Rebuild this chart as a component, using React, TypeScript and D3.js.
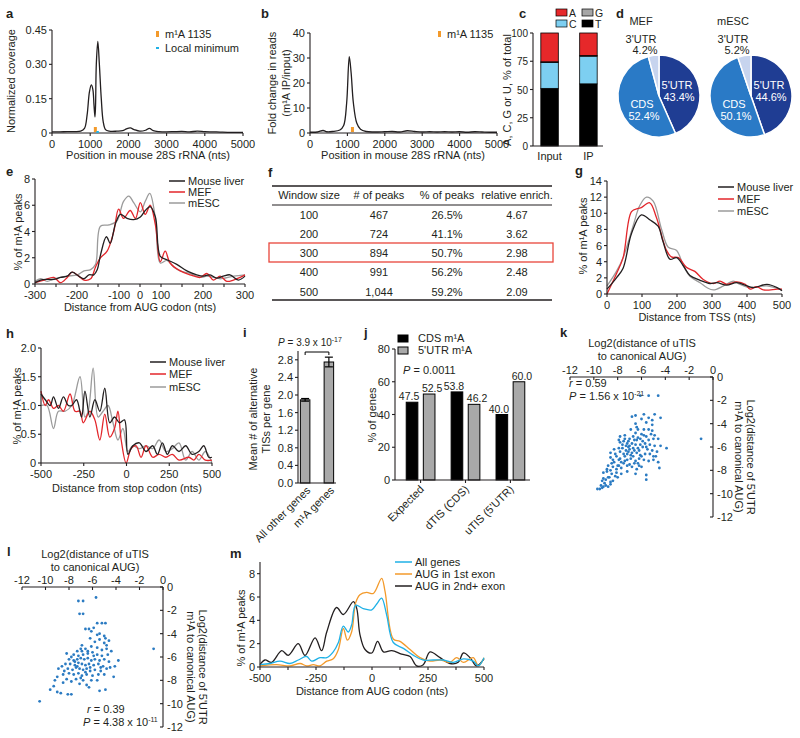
import React from "react";
import * as d3 from "d3";

const FONT = "'Liberation Sans', Arial, Helvetica, sans-serif";
const INK = "#231f20";
const RED = "#e3262b";
const GREY = "#9b9b9b";
const ORANGE = "#f39a2b";
const CYAN = "#1fb1e6";
const DOT = "#2b7bc2";

type Pt = [number, number];

// ---------- a ----------
const aXTicks = [0, 1000, 2000, 3000, 4000, 5000];
const aYTicks = [0, 0.15, 0.3, 0.45];
const aYTickLabels = ["0", "0.15", "0.30", "0.45"];
const aM1APos = 1135;
const aCoverage: Pt[] = [
  [0, 0.005], [200, 0.005], [400, 0.006], [600, 0.006], [750, 0.008], [850, 0.02], [920, 0.08],
  [980, 0.18], [1030, 0.21], [1070, 0.19], [1100, 0.12], [1125, 0.07], [1140, 0.12], [1160, 0.3],
  [1200, 0.4], [1240, 0.3], [1290, 0.15], [1340, 0.05], [1400, 0.015], [1500, 0.008], [1700, 0.008],
  [1850, 0.01], [1950, 0.018], [2050, 0.022], [2150, 0.015], [2300, 0.008], [2450, 0.012], [2550, 0.02],
  [2650, 0.01], [2800, 0.006], [3000, 0.005], [3200, 0.006], [3400, 0.007], [3600, 0.005], [3800, 0.008],
  [4000, 0.006], [4200, 0.005], [4400, 0.004], [4600, 0.003], [4800, 0.003], [5000, 0.003],
];

// ---------- b ----------
const bYTicks = [0, 10, 20, 30, 40];
const bFoldChange: Pt[] = [
  [0, 0.3], [200, 0.4], [350, 1.0], [450, 0.5], [600, 0.6], [800, 1.2], [900, 3], [980, 12],
  [1050, 30.5], [1100, 24], [1160, 12], [1250, 4], [1350, 1.5], [1500, 0.6], [1700, 0.4], [2000, 0.5],
  [2200, 0.6], [2400, 0.4], [2600, 0.9], [2800, 0.6], [3000, 0.4], [3200, 0.5], [3400, 0.4], [3600, 0.5],
  [3800, 0.4], [4000, 0.5], [4200, 0.3], [4400, 0.5], [4600, 0.4], [4800, 0.3], [5000, 0.3],
];

// ---------- c ----------
const cSamples = ["Input", "IP"];
const cT = [51, 55];
const cC = [23, 24.5];
const cG = [0.5, 0.5];
const cA = [25.5, 20];
const cYTicks = [0, 25, 50, 75, 100];

// ---------- d ----------
const dRegions = ["5'UTR", "CDS", "3'UTR"];
const dMEF = [43.4, 52.4, 4.2];
const dESC = [44.6, 50.1, 5.2];

// ---------- e ----------
const eXTicks = [-300, -240, -180, -120, -60, 0, 60, 120, 180, 240, 300];
const eXTickLabels = ["-300", "", "-200", "", "-100", "0", "100", "", "200", "", "300"];
const eYTicks = [0, 2, 4, 6, 8];
const eLiver: Pt[] = [
  [-300, 0.1], [-284, 0.3], [-265, 0.35], [-246, 0.35], [-227, 0.5], [-208, 0.6], [-194, 0.9], [-175, 0.6],
  [-160, 0.4], [-146, 0.7], [-132, 0.7], [-122, 1.1], [-113, 2.2], [-96, 3.6], [-85, 3.1], [-70, 4.6],
  [-56, 5.3], [-37, 5.0], [-18, 4.9], [1, 5.1], [15, 5.6], [29, 5.9], [44, 5.1], [58, 2.1], [77, 1.85],
  [105, 1.5], [134, 1.0], [162, 0.7], [181, 0.6], [200, 0.7], [219, 0.45], [238, 0.6], [257, 0.7], [281, 0.3], [300, 0.6],
];
const eMEF: Pt[] = [
  [-300, 0.1], [-274, 0.3], [-246, 0.5], [-227, 0.1], [-208, 0.5], [-194, 0.9], [-175, 0.6], [-160, 0.3],
  [-141, 0.4], [-127, 1.3], [-113, 2.0], [-94, 2.5], [-75, 4.0], [-61, 5.7], [-47, 5.0], [-28, 5.6],
  [-13, 5.0], [1, 6.2], [15, 5.3], [29, 6.0], [44, 4.5], [58, 1.7], [72, 2.5], [86, 1.6], [115, 1.0],
  [143, 0.7], [172, 0.5], [191, 0.8], [210, 0.3], [229, 0.6], [248, 0.2], [267, 0.3], [286, 0.5], [300, 0.7],
];
const eESC: Pt[] = [
  [-300, 0.2], [-284, 0.4], [-265, 0.2], [-246, 0.4], [-227, 0.5], [-208, 0.6], [-179, 0.7], [-160, 1.0],
  [-141, 1.1], [-127, 1.5], [-113, 4.4], [-89, 4.5], [-66, 4.8], [-47, 6.3], [-32, 6.7], [-18, 6.2],
  [1, 5.5], [15, 6.3], [28, 6.9], [44, 5.0], [58, 1.6], [77, 1.8], [96, 1.3], [115, 1.0], [143, 0.8],
  [172, 0.5], [191, 0.6], [210, 0.5], [229, 0.4], [267, 0.6], [300, 0.7],
];

// ---------- f ----------
const fHeaders = ["Window size", "# of peaks", "% of peaks", "relative enrich."];
const fWindow = ["100", "200", "300", "400", "500"];
const fPeaks = ["467", "724", "894", "991", "1,044"];
const fPct = ["26.5%", "41.1%", "50.7%", "56.2%", "59.2%"];
const fEnrich = ["4.67", "3.62", "2.98", "2.48", "2.09"];
const fHighlightRow = 2;

// ---------- g ----------
const gXTicks = [0, 100, 200, 300, 400, 500];
const gYTicks = [0, 2, 4, 6, 8, 10, 12, 14];
const gLiver: Pt[] = [
  [0, 0.6], [27, 2.0], [46, 3.2], [70, 7.5], [98, 9.8], [122, 9.2], [146, 8.4], [160, 6.5], [180, 4.3],
  [199, 4.5], [218, 3.5], [237, 2.3], [266, 1.7], [294, 1.3], [314, 1.4], [342, 1.1], [371, 1.4],
  [400, 1.0], [419, 0.8], [457, 1.2], [486, 0.8], [500, 0.4],
];
const gMEF: Pt[] = [
  [0, 0.0], [27, 2.5], [46, 4.5], [70, 10.2], [89, 10.6], [98, 10.7], [122, 11.3], [141, 9.5], [170, 5.4],
  [184, 4.6], [204, 4.5], [227, 3.3], [251, 2.8], [275, 1.8], [304, 1.3], [323, 1.6], [342, 1.2],
  [371, 1.5], [395, 1.2], [409, 0.6], [428, 0.9], [447, 0.5], [486, 0.6], [500, 0.6],
];
const gESC: Pt[] = [
  [0, 1.0], [27, 2.8], [46, 4.5], [75, 8.5], [94, 11.0], [113, 12.0], [132, 11.5], [156, 8.0], [175, 5.8],
  [199, 5.4], [218, 3.5], [237, 2.2], [266, 1.4], [285, 0.8], [304, 0.5], [333, 1.0], [361, 1.6],
  [380, 1.2], [404, 0.8], [428, 0.9], [457, 1.0], [500, 0.5],
];

// ---------- h ----------
const hXTicks = [-500, -250, 0, 250, 500];
const hYTicks = [0, 0.5, 1.0, 1.5, 2.0];
const hYTickLabels = ["0", "0.5", "1.0", "1.5", "2.0"];
const hLiver: Pt[] = [
  [-500, 1.2], [-475, 1.1], [-446, 1.0], [-427, 1.15], [-398, 0.95], [-369, 1.15], [-340, 1.0], [-320, 1.0],
  [-292, 1.1], [-263, 0.8], [-243, 1.25], [-214, 0.8], [-185, 1.1], [-156, 0.9], [-127, 1.3], [-98, 0.7],
  [-70, 0.8], [-41, 0.7], [-12, 0.75], [8, 0.15], [37, 0.3], [75, 0.35], [114, 0.2], [153, 0.3],
  [181, 0.15], [210, 0.35], [239, 0.15], [268, 0.3], [307, 0.2], [346, 0.3], [384, 0.15], [423, 0.2],
  [452, 0.3], [481, 0.1], [500, 0.1],
];
const hMEF: Pt[] = [
  [-500, 1.25], [-475, 1.0], [-456, 1.1], [-427, 0.95], [-398, 1.0], [-369, 0.9], [-330, 1.2], [-301, 0.9],
  [-272, 0.9], [-253, 0.7], [-214, 0.9], [-185, 0.75], [-156, 0.4], [-127, 0.85], [-98, 0.45], [-70, 0.6],
  [-50, 0.9], [-31, 0.4], [-2, 0.0], [27, 0.25], [56, 0.3], [85, 0.1], [114, 0.3], [153, 0.1], [191, 0.15],
  [230, 0.1], [268, 0.15], [307, 0.05], [365, 0.1], [394, 0.05], [423, 0.15], [461, 0.05], [500, 0.05],
];
const hESC: Pt[] = [
  [-500, 1.0], [-465, 1.0], [-427, 0.6], [-398, 0.9], [-359, 0.9], [-320, 1.0], [-272, 1.5], [-243, 0.8],
  [-224, 0.9], [-195, 1.65], [-166, 0.8], [-137, 0.9], [-108, 1.0], [-79, 0.7], [-50, 0.4], [-21, 0.6],
  [8, 0.2], [37, 0.3], [75, 0.25], [114, 0.3], [153, 0.25], [191, 0.4], [230, 0.2], [268, 0.25],
  [307, 0.35], [346, 0.05], [384, 0.2], [423, 0.05], [461, 0.2], [500, 0.0],
];

// ---------- i ----------
const iGroups = ["All other genes", "m\u00b9A genes"];
const iMeans = [1.89, 2.75];
const iErrors = [0.03, 0.11];
const iYTicks = [0, 0.4, 0.8, 1.2, 1.6, 2.0, 2.4, 2.8];

// ---------- j ----------
const jGroups = ["Expected", "dTIS (CDS)", "uTIS (5'UTR)"];
const jCDS = [47.5, 53.8, 40.0];
const jUTR = [52.5, 46.2, 60.0];
const jYTicks = [0, 20, 40, 60, 80];

// ---------- k / l ----------
const klTicks = [-12, -10, -8, -6, -4, -2, 0];
const kPoints: Pt[] = [
  [-6.1, -1.6], [-5.4, -1.6], [-4.6, -1.6], [-6.8, -3.4], [-6.5, -3.3], [-5.8, -3.2], [-5.4, -3.5], [-4.9, -3.2],
  [-4.4, -3.5], [-6.0, -3.6], [-5.1, -3.7], [-6.5, -4.0], [-5.6, -3.9], [-5.1, -4.1], [-6.4, -4.3], [-6.9, -4.5],
  [-6.3, -4.5], [-5.8, -4.5], [-5.4, -4.5], [-5.1, -4.6], [-6.5, -4.8], [-6.0, -4.9], [-5.2, -4.9], [-4.9, -5.0],
  [-5.6, -5.1], [-7.8, -5.1], [-7.4, -5.0], [-6.7, -5.1], [-6.3, -5.2], [-7.0, -5.3], [-6.4, -5.4], [-5.4, -5.4],
  [-5.0, -5.3], [-4.6, -5.3], [-5.9, -5.5], [-7.5, -5.5], [-7.9, -5.4], [-7.8, -5.6], [-7.2, -5.7], [-6.8, -5.7],
  [-6.5, -5.8], [-6.1, -5.8], [-5.7, -5.7], [-5.3, -5.8], [-4.9, -5.9], [-4.4, -5.9], [-7.3, -5.9], [-7.1, -6.0],
  [-6.3, -6.1], [-5.9, -6.0], [-3.9, -6.1], [-8.6, -6.5], [-8.2, -6.6], [-7.8, -6.4], [-7.5, -6.6], [-7.1, -6.4],
  [-6.8, -6.5], [-6.4, -6.5], [-6.1, -6.7], [-5.7, -6.6], [-5.3, -6.6], [-5.0, -6.8], [-8.1, -6.8], [-7.4, -6.8],
  [-6.7, -6.8], [-6.0, -6.8], [-8.6, -6.9], [-8.4, -7.1], [-7.9, -7.1], [-7.7, -7.3], [-7.2, -7.1], [-6.9, -7.0],
  [-6.5, -7.2], [-6.3, -7.4], [-5.8, -7.1], [-5.4, -7.2], [-5.0, -7.1], [-4.6, -7.3], [-8.5, -7.4], [-7.5, -7.4],
  [-8.8, -7.6], [-8.4, -7.7], [-8.0, -7.6], [-7.7, -7.8], [-7.2, -7.6], [-6.8, -7.7], [-6.4, -7.9], [-6.0, -7.7],
  [-4.5, -7.8], [-8.1, -7.9], [-8.9, -7.9], [-9.2, -8.2], [-8.9, -8.1], [-8.5, -8.3], [-8.1, -8.2], [-7.7, -8.3],
  [-7.2, -8.1], [-6.5, -8.3], [-5.6, -8.4], [-8.7, -8.6], [-9.2, -8.7], [-9.0, -8.8], [-8.8, -8.6], [-8.6, -9.0],
  [-9.1, -9.1], [-9.3, -8.9], [-5.6, -8.8], [-9.7, -9.6], [-9.5, -9.6], [-9.3, -9.5], [-9.2, -9.4], [-9.0, -9.3],
  [-8.8, -9.4], [-8.6, -9.2], [-1.0, -5.3], [-7.0, -6.2], [-6.6, -6.3], [-7.3, -6.3], [-6.2, -6.3], [-7.6, -6.1],
  [-7.0, -5.9], [-6.7, -6.1], [-7.2, -6.6], [-6.9, -6.7], [-7.8, -7.0], [-7.4, -7.2], [-8.3, -7.3], [-6.6, -7.4],
  [-6.2, -7.0], [-5.5, -6.2], [-5.1, -6.3], [-4.7, -6.4], [-4.8, -6.8], [-5.6, -6.0], [-7.6, -5.8], [-7.9, -6.1],
  [-8.3, -6.2], [-7.4, -5.3], [-7.1, -5.5], [-6.6, -5.4], [-6.1, -5.3], [-5.8, -5.0], [-8.0, -8.6], [-8.4, -8.9],
  [-7.9, -7.6], [-7.0, -7.5], [-6.2, -7.6], [-8.6, -8.0], [-9.4, -9.3], [-8.2, -8.5],
];
const lPoints: Pt[] = [
  [-7.2, -1.2], [-6.8, -1.2], [-5.7, -0.9], [-7.1, -2.3], [-6.8, -2.3], [-5.6, -3.1], [-5.2, -3.1], [-4.9, -3.1],
  [-6.6, -3.6], [-6.3, -3.6], [-5.9, -3.5], [-6.1, -3.8], [-5.4, -4.0], [-5.0, -4.2], [-4.9, -4.4], [-5.4, -4.5],
  [-5.0, -4.8], [-4.8, -5.0], [-5.6, -4.1], [-6.2, -4.4], [-6.9, -5.0], [-6.6, -5.3], [-6.1, -5.1], [-5.6, -5.2],
  [-5.2, -5.4], [-4.8, -5.3], [-0.8, -5.3], [-8.2, -5.7], [-7.8, -6.0], [-7.3, -5.5], [-6.9, -5.5], [-3.8, -6.3],
  [-4.1, -6.8], [-8.6, -6.8], [-8.9, -7.0], [-9.0, -7.7], [-8.5, -7.5], [-9.0, -9.0], [-8.7, -9.1], [-9.6, -8.8],
  [-9.3, -8.5], [-8.1, -9.2], [-7.8, -9.2], [-10.5, -9.8], [-5.4, -8.9], [-4.9, -8.8], [-4.2, -7.7], [-6.5, -8.4],
  [-6.1, -8.0], [-5.6, -8.0], [-7.1, -8.3], [-7.4, -7.9], [-7.6, -5.8], [-7.2, -5.9], [-6.8, -5.8], [-6.4, -5.7],
  [-6.0, -5.6], [-5.6, -5.8], [-5.2, -5.9], [-4.7, -5.8], [-8.0, -6.2], [-7.6, -6.3], [-7.3, -6.2], [-7.0, -6.1],
  [-6.7, -6.2], [-6.4, -6.1], [-6.1, -6.3], [-5.8, -6.2], [-5.4, -6.3], [-5.0, -6.2], [-4.6, -6.4], [-8.3, -6.6],
  [-7.9, -6.6], [-7.5, -6.7], [-7.2, -6.5], [-6.9, -6.6], [-6.6, -6.7], [-6.3, -6.6], [-5.9, -6.7], [-5.5, -6.6],
  [-5.1, -6.8], [-8.1, -7.0], [-7.7, -7.1], [-7.4, -6.9], [-7.1, -7.0], [-6.8, -7.1], [-6.5, -7.0], [-6.2, -7.2],
  [-5.8, -7.1], [-5.3, -7.2], [-4.8, -7.0], [-8.0, -7.4], [-7.6, -7.5], [-7.2, -7.4], [-6.9, -7.6], [-6.5, -7.5],
  [-6.0, -7.6], [-5.5, -7.5], [-8.2, -7.9], [-7.8, -8.1], [-6.8, -8.0], [-6.3, -8.6], [-7.0, -5.3], [-6.4, -5.5],
  [-5.9, -5.9], [-5.3, -6.9], [-4.5, -6.9], [-7.3, -6.8], [-6.6, -7.3], [-7.5, -6.4], [-6.2, -6.9], [-8.4, -7.2],
  [-5.0, -7.5], [-4.4, -5.5], [-4.6, -4.6], [-5.8, -4.7], [-7.0, -7.8], [-8.5, -8.2], [-9.2, -8.0],
];

// ---------- m ----------
const mXTicks = [-500, -375, -250, -125, 0, 125, 250, 375, 500];
const mXTickLabels = ["-500", "", "-250", "", "0", "", "250", "", "500"];
const mYTicks = [0, 2, 4, 6, 8];
const mAll: Pt[] = [
  [-500, 0.2], [-455, 0.3], [-411, 0.5], [-366, 0.3], [-329, 0.6], [-292, 0.9], [-269, 0.5], [-232, 0.8],
  [-202, 0.8], [-173, 1.3], [-150, 2.1], [-128, 3.5], [-106, 3.0], [-91, 3.6], [-73, 5.3], [-39, 5.0],
  [-1, 4.9], [21, 5.4], [43, 5.9], [65, 4.5], [95, 2.1], [140, 1.6], [185, 1.0], [229, 0.6], [274, 0.6],
  [318, 0.6], [363, 0.4], [408, 0.7], [452, 0.5], [475, 0.1], [500, 0.8],
];
const mFirst: Pt[] = [
  [-500, 0.1], [-426, 0.2], [-366, 0.1], [-321, 0.3], [-292, 0.1], [-262, 0.2], [-232, 0.1], [-202, 0.5],
  [-173, 0.7], [-150, 1.5], [-128, 3.3], [-110, 2.3], [-91, 3.0], [-73, 5.5], [-54, 6.2], [-24, 6.4],
  [6, 6.3], [43, 7.6], [58, 6.5], [95, 2.4], [125, 2.2], [170, 1.5], [214, 0.8], [259, 0.5], [304, 0.6],
  [348, 0.4], [378, 0.8], [408, 0.4], [452, 0.8], [475, 0.1], [500, 0.8],
];
const mSecond: Pt[] = [
  [-500, 0.2], [-478, 0.6], [-448, 0.4], [-403, 1.4], [-374, 1.0], [-329, 2.0], [-299, 1.0], [-254, 2.5],
  [-225, 1.4], [-202, 3.0], [-158, 5.1], [-128, 4.5], [-83, 5.6], [-68, 5.0], [-54, 2.8], [-31, 1.5],
  [-1, 1.2], [25, 2.2], [51, 1.3], [88, 1.4], [132, 1.1], [170, 0.9], [199, 0.1], [229, 0.2], [259, 1.3],
  [304, 0.8], [348, 0.3], [385, 0.4], [408, 1.2], [438, 0.8], [467, 0.1], [500, 0.7],
];

// ================= helpers =================
function Txt({ x, y, children, anchor = "start", size = 11, weight, fill = INK, transform, italic }: any) {
  return (
    <text x={x} y={y} textAnchor={anchor} fontSize={size} fontWeight={weight} fill={fill}
      transform={transform} fontFamily={FONT} fontStyle={italic ? "italic" : undefined}>
      {children}
    </text>
  );
}
function Letter({ x, y, t }: any) {
  return <Txt x={x} y={y} size={13} weight="bold">{t}</Txt>;
}
function VText({ x, y, children, rot = -90, size = 11 }: any) {
  return <Txt x={x} y={y} anchor="middle" size={size} transform={`rotate(${rot} ${x} ${y})`}>{children}</Txt>;
}
function YAxisLeft({ scale, x, ticks, labels, len = 3, size = 11 }: any) {
  const [d0, d1] = scale.domain();
  return (
    <g>
      <line x1={x} x2={x} y1={scale(d0)} y2={scale(d1)} stroke={INK} strokeWidth={1.1} />
      {ticks.map((t: number, i: number) => (
        <g key={i}>
          <line x1={x - len} x2={x} y1={scale(t)} y2={scale(t)} stroke={INK} strokeWidth={1.1} />
          <Txt x={x - len - 2} y={scale(t) + 4} anchor="end" size={size}>{labels ? labels[i] : String(t)}</Txt>
        </g>
      ))}
    </g>
  );
}
function XAxisBottom({ scale, y, ticks, labels, len = 3, dy = 14.5 }: any) {
  const [r0, r1] = scale.range();
  return (
    <g>
      <line x1={r0} x2={r1} y1={y} y2={y} stroke={INK} strokeWidth={1.1} />
      {ticks.map((t: number, i: number) => (
        <g key={i}>
          <line x1={scale(t)} x2={scale(t)} y1={y} y2={y + len} stroke={INK} strokeWidth={1.1} />
          <Txt x={scale(t)} y={y + dy} anchor="middle">{labels ? labels[i] : String(t)}</Txt>
        </g>
      ))}
    </g>
  );
}
function Curve({ data, x, y, color, w = 1.3 }: any) {
  const line = d3.line<Pt>().x((d) => x(d[0])).y((d) => y(d[1])).curve(d3.curveCatmullRom.alpha(0.5));
  return <path d={line(data) || ""} fill="none" stroke={color} strokeWidth={w} strokeLinejoin="round" />;
}
function LineLegend({ x, ys, items, colors, len = 16, size = 11 }: any) {
  return (
    <g>
      {items.map((it: string, i: number) => (
        <g key={i}>
          <line x1={x} x2={x + len} y1={ys[i]} y2={ys[i]} stroke={colors[i]} strokeWidth={1.5} />
          <Txt x={x + len + 3} y={ys[i] + 4} size={size}>{it}</Txt>
        </g>
      ))}
    </g>
  );
}
const sampleNames = ["Mouse liver", "MEF", "mESC"];
const sampleColors = [INK, RED, GREY];

// ================= panels =================
function PanelA() {
  const x = d3.scaleLinear().domain([0, 5000]).range([52, 243]);
  const y = d3.scaleLinear().domain([0, 0.45]).range([133, 30]);
  return (
    <g>
      <Letter x={6} y={18} t="a" />
      <Curve data={aCoverage} x={x} y={y} color={INK} />
      <YAxisLeft scale={y} x={52} ticks={aYTicks} labels={aYTickLabels} />
      <XAxisBottom scale={x} y={133} ticks={aXTicks} />
      <rect x={x(aM1APos) - 1.5} y={127} width={3} height={5} fill={ORANGE} />
      <rect x={x(aM1APos) + 1} y={131} width={2.5} height={2} fill={CYAN} />
      <rect x={156} y={31} width={3} height={6} fill={ORANGE} />
      <Txt x={165} y={38}>m¹A 1135</Txt>
      <rect x={156} y={47} width={3} height={2} fill={CYAN} />
      <Txt x={165} y={52}>Local minimum</Txt>
      <VText x={15} y={81}>Normalized coverage</VText>
      <Txt x={148} y={159} anchor="middle">Position in mouse 28S rRNA (nts)</Txt>
    </g>
  );
}

function PanelB() {
  const x = d3.scaleLinear().domain([0, 5000]).range([310, 497]);
  const y = d3.scaleLinear().domain([0, 40]).range([133, 33]);
  return (
    <g>
      <Letter x={261} y={18} t="b" />
      <Curve data={bFoldChange} x={x} y={y} color={INK} />
      <YAxisLeft scale={y} x={310} ticks={bYTicks} />
      <XAxisBottom scale={x} y={133} ticks={aXTicks} />
      <rect x={x(aM1APos) - 1.5} y={127} width={3} height={5} fill={ORANGE} />
      <rect x={438} y={31} width={3} height={6} fill={ORANGE} />
      <Txt x={447} y={38}>m¹A 1135</Txt>
      <VText x={276} y={83}>Fold change in reads</VText>
      <VText x={290} y={83}>(m¹A IP/input)</VText>
      <Txt x={403} y={159} anchor="middle">Position in mouse 28S rRNA (nts)</Txt>
    </g>
  );
}

function PanelC() {
  const x = d3.scaleBand().domain(cSamples).range([535, 603]).paddingInner(0.55).paddingOuter(0.15);
  const y = d3.scaleLinear().domain([0, 100]).range([146, 33]);
  const layers = [
    { vals: cT, color: "#000" },
    { vals: cC, color: "#7dcff1" },
    { vals: cG, color: "#a6a6a6" },
    { vals: cA, color: "#e6282a" },
  ];
  const legend = [
    { k: "A", c: "#e6282a", lx: 556, ly: 9 },
    { k: "G", c: "#a6a6a6", lx: 582, ly: 9 },
    { k: "C", c: "#7dcff1", lx: 556, ly: 20 },
    { k: "T", c: "#000", lx: 582, ly: 20 },
  ];
  return (
    <g>
      <Letter x={519} y={18} t="c" />
      {cSamples.map((s, i) => {
        let acc = 0;
        return (
          <g key={s}>
            {layers.map((L, j) => {
              const y0 = acc;
              acc += L.vals[i];
              return (
                <rect key={j} x={x(s)} width={x.bandwidth()} y={y(acc)} height={y(y0) - y(acc)}
                  fill={L.color} stroke="#000" strokeWidth={0.8} />
              );
            })}
            <Txt x={(x(s) as number) + x.bandwidth() / 2} y={160} anchor="middle">{s}</Txt>
          </g>
        );
      })}
      <YAxisLeft scale={y} x={533} ticks={cYTicks} size={10} />
      <line x1={533} x2={603} y1={146} y2={146} stroke={INK} strokeWidth={1.1} />
      {legend.map((l) => (
        <g key={l.k}>
          <rect x={l.lx} y={l.ly} width={11} height={7} fill={l.c} stroke="#000" strokeWidth={0.7} />
          <Txt x={l.lx + 13} y={l.ly + 7.5} size={10.5}>{l.k}</Txt>
        </g>
      ))}
      <VText x={511} y={90}>A, C, G or U, % of total</VText>
    </g>
  );
}

function Pie({ cx, cy, r, values, title, pct }: any) {
  const pie = d3.pie<number>().sort(null).startAngle(0).endAngle(2 * Math.PI);
  const arc = d3.arc<d3.PieArcDatum<number>>().innerRadius(0).outerRadius(r);
  const colors = ["#1f3d93", "#2a7ac6", "#c7d4ee"];
  const arcs = pie(values);
  return (
    <g>
      <g transform={`translate(${cx},${cy})`}>
        {arcs.map((a, i) => (
          <path key={i} d={arc(a) || ""} fill={colors[i]} stroke="#fff" strokeWidth={1.5} />
        ))}
      </g>
      <Txt x={cx - 18} y={25} anchor="middle">{title}</Txt>
      <Txt x={cx - 18} y={43} anchor="middle">{dRegions[2]}</Txt>
      <Txt x={cx - 14} y={54} anchor="middle">{pct[2]}</Txt>
      <Txt x={cx + 18} y={89} anchor="middle" fill="#fff">{dRegions[0]}</Txt>
      <Txt x={cx + 20} y={101} anchor="middle" fill="#fff">{pct[0]}</Txt>
      <Txt x={cx - 17} y={108} anchor="middle" fill="#fff">{dRegions[1]}</Txt>
      <Txt x={cx - 15} y={120} anchor="middle" fill="#fff">{pct[1]}</Txt>
    </g>
  );
}

function PanelD() {
  const fmt = (v: number) => v.toFixed(1) + "%";
  return (
    <g>
      <Letter x={616} y={18} t="d" />
      <Pie cx={659} cy={96} r={41} values={dMEF} title="MEF" pct={dMEF.map(fmt)} />
      <Pie cx={751} cy={96} r={41} values={dESC} title="mESC" pct={dESC.map(fmt)} />
    </g>
  );
}

function PanelE() {
  const x = d3.scaleLinear().domain([-300, 300]).range([35, 245]);
  const y = d3.scaleLinear().domain([0, 8]).range([284, 179]);
  return (
    <g>
      <Letter x={6} y={176} t="e" />
      <Curve data={eESC} x={x} y={y} color={GREY} />
      <Curve data={eMEF} x={x} y={y} color={RED} />
      <Curve data={eLiver} x={x} y={y} color={INK} />
      <YAxisLeft scale={y} x={35} ticks={eYTicks} />
      <XAxisBottom scale={x} y={284} ticks={eXTicks} labels={eXTickLabels} dy={15} />
      <LineLegend x={169} ys={[181, 192, 203]} items={sampleNames} colors={sampleColors} />
      <VText x={22} y={232}>% of m¹A peaks</VText>
      <Txt x={140} y={311} anchor="middle">Distance from AUG codon (nts)</Txt>
    </g>
  );
}

function PanelF() {
  const cols = [309, 379, 447, 517];
  const rowY = [215, 234, 253, 272, 292];
  const rows = fWindow.map((w, i) => [w, fPeaks[i], fPct[i], fEnrich[i]]);
  return (
    <g>
      <Letter x={268} y={177} t="f" />
      <line x1={272} x2={552} y1={186} y2={186} stroke={INK} strokeWidth={1.4} />
      {fHeaders.map((h, i) => (
        <Txt key={h} x={cols[i]} y={199} anchor="middle">{h}</Txt>
      ))}
      <line x1={272} x2={552} y1={205} y2={205} stroke={INK} strokeWidth={1.1} />
      {rows.map((r, ri) =>
        r.map((c, ci) => (
          <Txt key={ri + "-" + ci} x={cols[ci]} y={rowY[ri] + 4} anchor="middle">{c}</Txt>
        ))
      )}
      <line x1={272} x2={552} y1={300} y2={300} stroke={INK} strokeWidth={1.4} />
      <rect x={269} y={rowY[fHighlightRow] - 10} width={284} height={19} fill="none" stroke="#e8463b" strokeWidth={1.3} />
    </g>
  );
}

function PanelG() {
  const x = d3.scaleLinear().domain([0, 500]).range([607, 782]);
  const y = d3.scaleLinear().domain([0, 14]).range([294, 181]);
  return (
    <g>
      <Letter x={575} y={175} t="g" />
      <Curve data={gESC} x={x} y={y} color={GREY} />
      <Curve data={gMEF} x={x} y={y} color={RED} />
      <Curve data={gLiver} x={x} y={y} color={INK} />
      <YAxisLeft scale={y} x={607} ticks={gYTicks} />
      <XAxisBottom scale={x} y={294} ticks={gXTicks} />
      <LineLegend x={718} ys={[187, 199, 211]} items={sampleNames} colors={sampleColors} />
      <VText x={587} y={236}>% of m¹A peaks</VText>
      <Txt x={697} y={321} anchor="middle">Distance from TSS (nts)</Txt>
    </g>
  );
}

function PanelH() {
  const x = d3.scaleLinear().domain([-500, 500]).range([41, 212]);
  const y = d3.scaleLinear().domain([0, 2]).range([463, 348]);
  return (
    <g>
      <Letter x={6} y={338} t="h" />
      <Curve data={hESC} x={x} y={y} color={GREY} />
      <Curve data={hMEF} x={x} y={y} color={RED} />
      <Curve data={hLiver} x={x} y={y} color={INK} />
      <YAxisLeft scale={y} x={41} ticks={hYTicks} labels={hYTickLabels} />
      <XAxisBottom scale={x} y={463} ticks={hXTicks} dy={15} />
      <LineLegend x={150} ys={[362, 374, 387]} items={sampleNames} colors={sampleColors} />
      <VText x={21} y={406}>% of m¹A peaks</VText>
      <Txt x={127} y={492} anchor="middle">Distance from stop codon (nts)</Txt>
    </g>
  );
}

function PanelI() {
  const x = d3.scaleBand().domain(iGroups).range([298, 336]).paddingInner(0.6).paddingOuter(0.1);
  const y = d3.scaleLinear().domain([0, 3.0]).range([483, 351]);
  const cx = (g: string) => (x(g) as number) + x.bandwidth() / 2;
  return (
    <g>
      <Letter x={243} y={337} t="i" />
      {iGroups.map((g, i) => (
        <g key={g}>
          <rect x={x(g)} width={x.bandwidth()} y={y(iMeans[i])} height={y(0) - y(iMeans[i])}
            fill="#a9a9a9" stroke="#000" strokeWidth={1} />
          <line x1={cx(g)} x2={cx(g)} y1={y(iMeans[i] - iErrors[i])} y2={y(iMeans[i] + iErrors[i])} stroke="#000" strokeWidth={1.2} />
          <line x1={cx(g) - 4} x2={cx(g) + 4} y1={y(iMeans[i] + iErrors[i])} y2={y(iMeans[i] + iErrors[i])} stroke="#000" strokeWidth={1.2} />
          <line x1={cx(g) - 4} x2={cx(g) + 4} y1={y(iMeans[i] - iErrors[i])} y2={y(iMeans[i] - iErrors[i])} stroke="#000" strokeWidth={1.2} />
          <Txt x={cx(g) + 6} y={491} anchor="end" transform={`rotate(-45 ${cx(g) + 6} 491)`}>{g}</Txt>
        </g>
      ))}
      <YAxisLeft scale={y} x={298} ticks={iYTicks} labels={iYTicks.map((t) => t.toFixed(1))} />
      <line x1={298} x2={336} y1={483} y2={483} stroke={INK} strokeWidth={1.1} />
      <path d={`M${cx(iGroups[0])},355 V352 H${cx(iGroups[1])} V355`} fill="none" stroke="#000" strokeWidth={1} />
      <Txt x={310} y={346} anchor="middle" size={10}>
        <tspan fontStyle="italic">P</tspan> = 3.9 x 10<tspan dy={-4} fontSize={7}>-17</tspan>
      </Txt>
      <VText x={257} y={419}>Mean # of alternative</VText>
      <VText x={270} y={419}>TISs per gene</VText>
    </g>
  );
}

function PanelJ() {
  const x0 = d3.scaleBand().domain(jGroups).range([395, 536]).paddingInner(0.36).paddingOuter(0.25);
  const x1 = d3.scaleBand().domain(["CDS", "UTR"]).range([0, x0.bandwidth()]).paddingInner(0.32).paddingOuter(0);
  const y = d3.scaleLinear().domain([0, 80]).range([480, 349]);
  const series = [
    { key: "CDS", vals: jCDS, fill: "#000", shift: -3 },
    { key: "UTR", vals: jUTR, fill: "#a9a9a9", shift: 3 },
  ];
  return (
    <g>
      <Letter x={364} y={337} t="j" />
      {jGroups.map((g, gi) => {
        const gx = x0(g) as number;
        const gc = gx + x0.bandwidth() / 2;
        return (
          <g key={g}>
            {series.map((s) => (
              <g key={s.key}>
                <rect x={gx + (x1(s.key) as number)} width={x1.bandwidth()} y={y(s.vals[gi])}
                  height={y(0) - y(s.vals[gi])} fill={s.fill} stroke="#000" strokeWidth={1} />
                <Txt x={gx + (x1(s.key) as number) + x1.bandwidth() / 2 + s.shift} y={y(s.vals[gi]) - 2} anchor="middle" size={10.5}>
                  {s.vals[gi].toFixed(1)}
                </Txt>
              </g>
            ))}
            <line x1={gc} x2={gc} y1={480} y2={483} stroke={INK} strokeWidth={1.1} />
            <Txt x={gc + 4} y={490} anchor="end" transform={`rotate(-45 ${gc + 4} 490)`}>{g}</Txt>
          </g>
        );
      })}
      <YAxisLeft scale={y} x={395} ticks={jYTicks} />
      <line x1={395} x2={530} y1={480} y2={480} stroke={INK} strokeWidth={1.1} />
      <rect x={398} y={335} width={10} height={7} fill="#000" stroke="#000" />
      <Txt x={418} y={342}>CDS m¹A</Txt>
      <rect x={398} y={347} width={10} height={7} fill="#a9a9a9" stroke="#000" />
      <Txt x={418} y={354}>5'UTR m¹A</Txt>
      <Txt x={403} y={374}>
        <tspan fontStyle="italic">P</tspan> = 0.0011
      </Txt>
      <VText x={376} y={415}>% of genes</VText>
    </g>
  );
}

function ScatterPanel({ pts, xr, yr, tx, ty, rx, letter, lx, ly, stats }: any) {
  const x = d3.scaleLinear().domain([-12, 0]).range(xr);
  const y = d3.scaleLinear().domain([0, -12]).range(yr);
  const axY = yr[0];
  const axX = xr[1];
  return (
    <g>
      <Letter x={lx} y={ly} t={letter} />
      <Txt x={tx} y={ty} anchor="middle">Log2(distance of uTIS</Txt>
      <Txt x={tx} y={ty + 13} anchor="middle">to canonical AUG)</Txt>
      <line x1={xr[0]} x2={xr[1]} y1={axY} y2={axY} stroke={INK} strokeWidth={1.1} />
      {klTicks.map((t) => (
        <g key={"x" + t}>
          <line x1={x(t)} x2={x(t)} y1={axY} y2={axY + 3} stroke={INK} strokeWidth={1.1} />
          <Txt x={x(t)} y={axY - 3.5} anchor="middle">{String(t)}</Txt>
        </g>
      ))}
      <line x1={axX} x2={axX} y1={yr[0]} y2={yr[1]} stroke={INK} strokeWidth={1.1} />
      {klTicks.map((t) => (
        <g key={"y" + t}>
          <line x1={axX - 3} x2={axX} y1={y(t)} y2={y(t)} stroke={INK} strokeWidth={1.1} />
          <Txt x={axX + 4} y={y(t) + 4}>{String(t)}</Txt>
        </g>
      ))}
      {pts.map((p: Pt, i: number) => (
        <circle key={i} cx={x(p[0])} cy={y(p[1])} r={1.4} fill={DOT} />
      ))}
      <VText x={rx} y={(yr[0] + yr[1]) / 2 + 10} rot={90}>Log2(distance of 5'UTR</VText>
      <VText x={rx - 12} y={(yr[0] + yr[1]) / 2 + 10} rot={90}>m¹A to canonical AUG)</VText>
      {stats}
    </g>
  );
}

function PanelK() {
  return (
    <ScatterPanel pts={kPoints} xr={[570, 713]} yr={[377, 517]} tx={642} ty={347} rx={747}
      letter="k" lx={560} ly={337}
      stats={
        <g>
          <Txt x={569} y={387}><tspan fontStyle="italic">r</tspan> = 0.59</Txt>
          <Txt x={569} y={400}>
            <tspan fontStyle="italic">P</tspan> = 1.56 x 10<tspan dy={-4} fontSize={7}>-21</tspan>
          </Txt>
        </g>
      } />
  );
}

function PanelL() {
  return (
    <ScatterPanel pts={lPoints} xr={[22, 163]} yr={[587, 727]} tx={95} ty={558} rx={199}
      letter="l" lx={7} ly={556}
      stats={
        <g>
          <Txt x={87} y={713}><tspan fontStyle="italic">r</tspan> = 0.39</Txt>
          <Txt x={83} y={726}>
            <tspan fontStyle="italic">P</tspan> = 4.38 x 10<tspan dy={-4} fontSize={7}>-11</tspan>
          </Txt>
        </g>
      } />
  );
}

function PanelM() {
  const x = d3.scaleLinear().domain([-500, 500]).range([260, 484]);
  const y = d3.scaleLinear().domain([0, 9]).range([667, 562]);
  return (
    <g>
      <Letter x={230} y={558} t="m" />
      <Curve data={mSecond} x={x} y={y} color={INK} />
      <Curve data={mFirst} x={x} y={y} color={ORANGE} />
      <Curve data={mAll} x={x} y={y} color={CYAN} />
      <YAxisLeft scale={y} x={260} ticks={mYTicks} />
      <XAxisBottom scale={x} y={667} ticks={mXTicks} labels={mXTickLabels} dy={15} />
      <LineLegend x={395} ys={[562, 574, 586]} items={["All genes", "AUG in 1st exon", "AUG in 2nd+ exon"]}
        colors={[CYAN, ORANGE, INK]} len={17} />
      <VText x={245} y={628}>% of m¹A peaks</VText>
      <Txt x={372} y={695} anchor="middle">Distance from AUG codon (nts)</Txt>
    </g>
  );
}

export default function App() {
  return (
    <svg width={800} height={738} viewBox="0 0 800 738"
      style={{ position: "absolute", left: 0, top: 0, background: "#fff" }} fontFamily={FONT}>
      <rect width={800} height={738} fill="#fff" />
      <PanelA />
      <PanelB />
      <PanelC />
      <PanelD />
      <PanelE />
      <PanelF />
      <PanelG />
      <PanelH />
      <PanelI />
      <PanelJ />
      <PanelK />
      <PanelL />
      <PanelM />
    </svg>
  );
}
